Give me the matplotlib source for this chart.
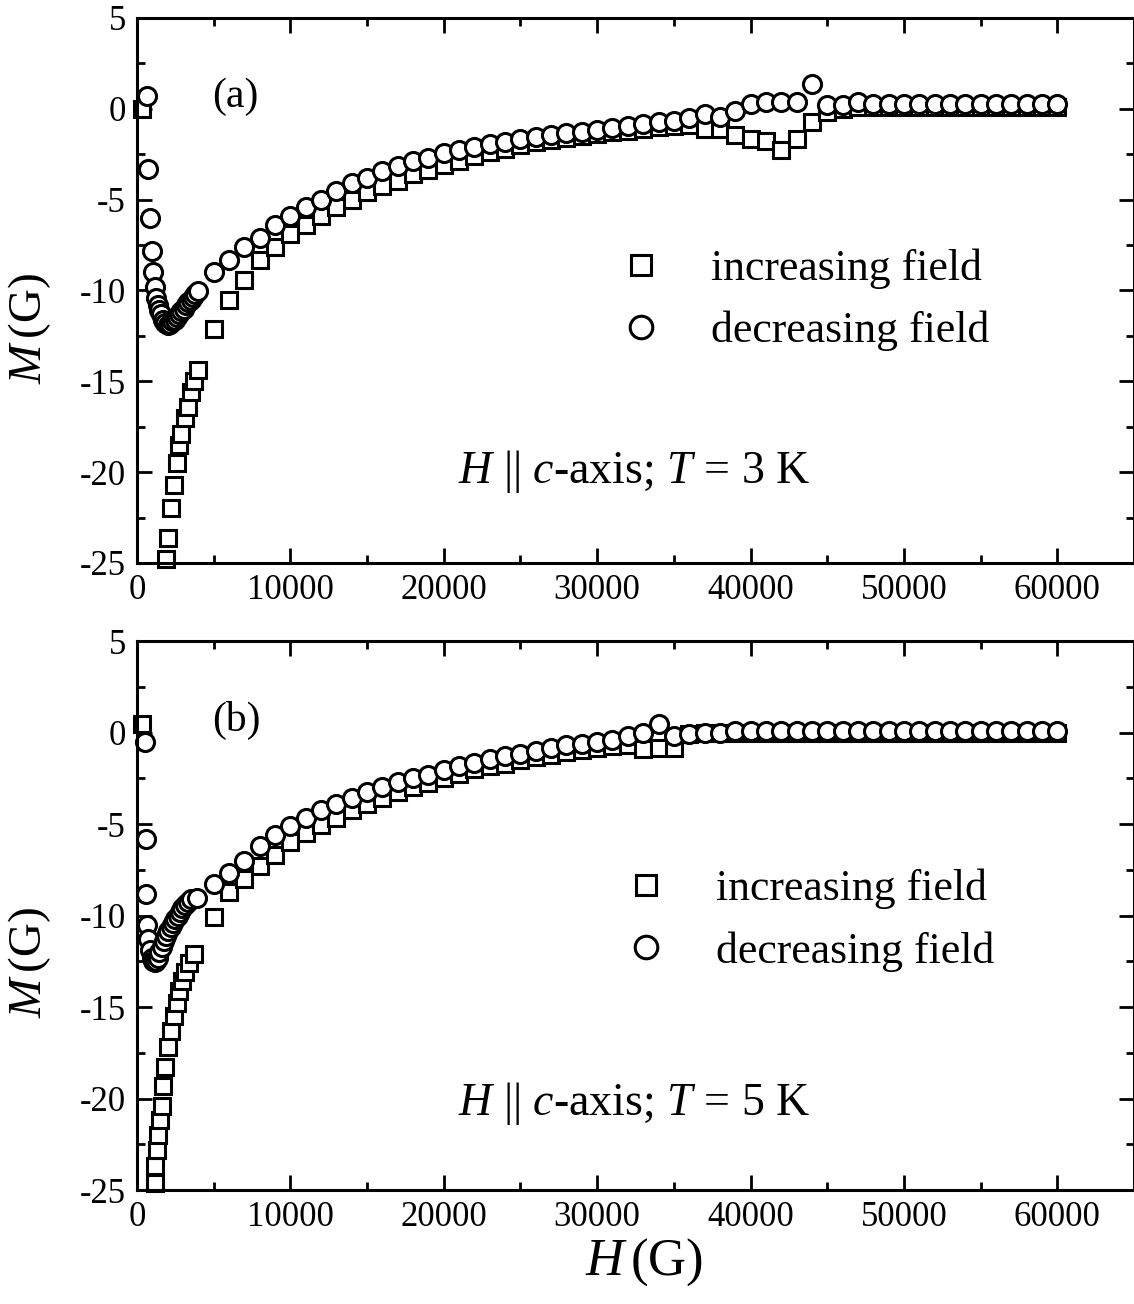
import matplotlib
matplotlib.use("Agg")
import matplotlib.pyplot as plt
from matplotlib.ticker import MultipleLocator

plt.rcParams['font.family'] = ['Liberation Serif', 'DejaVu Serif']
plt.rcParams['mathtext.fontset'] = 'custom'
plt.rcParams['mathtext.rm'] = 'Liberation Serif'
plt.rcParams['mathtext.it'] = 'Liberation Serif:italic'
plt.rcParams['axes.unicode_minus'] = False

# ---- panel (a), T = 3 K ----
h_inc_a = [300, 1900, 2000, 2200, 2400, 2600, 2750, 2900, 3100, 3300, 3500, 3700, 4000,
           5000, 6000, 7000, 8000, 9000, 10000, 11000, 12000, 13000, 14000, 15000, 16000,
           17000, 18000, 19000, 20000, 21000, 22000, 23000, 24000, 25000, 26000, 27000,
           28000, 29000, 30000, 31000, 32000, 33000, 34000, 35000, 36000, 37000, 38000,
           39000, 40000, 41000, 42000, 43000, 44000, 45000, 46000, 47000, 48000, 49000,
           50000, 51000, 52000, 53000, 54000, 55000, 56000, 57000, 58000, 59000, 60000]
m_inc_a = [0.0, -24.8, -23.6, -22.0, -20.7, -19.5, -18.5, -17.9, -17.0, -16.4, -15.6, -15.0, -14.4,
           -12.1, -10.5, -9.4, -8.3, -7.6, -6.9, -6.4, -5.9, -5.4, -5.0, -4.6, -4.25,
           -3.95, -3.6, -3.35, -3.1, -2.85, -2.6, -2.4, -2.2, -2.0, -1.85, -1.7,
           -1.6, -1.5, -1.4, -1.3, -1.2, -1.1, -1.0, -0.95, -0.9, -1.1, -1.1,
           -1.45, -1.65, -1.75, -2.25, -1.65, -0.75, -0.2, 0.0, 0.1, 0.1, 0.1,
           0.1, 0.1, 0.1, 0.1, 0.1, 0.1, 0.1, 0.1, 0.1, 0.1, 0.1]

h_dec_a = [650, 750, 850, 950, 1050, 1150, 1250, 1350, 1450, 1550, 1700, 1850, 2000, 2150,
           2300, 2450, 2600, 2750, 2900, 3050, 3200, 3350, 3500, 3650, 3800, 4000,
           5000, 6000, 7000, 8000, 9000, 10000, 11000, 12000, 13000, 14000, 15000, 16000,
           17000, 18000, 19000, 20000, 21000, 22000, 23000, 24000, 25000, 26000, 27000,
           28000, 29000, 30000, 31000, 32000, 33000, 34000, 35000, 36000, 37000, 38000,
           39000, 40000, 41000, 42000, 43000, 44000, 45000, 46000, 47000, 48000, 49000,
           50000, 51000, 52000, 53000, 54000, 55000, 56000, 57000, 58000, 59000, 60000]
m_dec_a = [0.7, -3.3, -6.0, -7.8, -9.0, -9.8, -10.4, -10.8, -11.1, -11.3, -11.6, -11.8, -11.9, -11.85,
           -11.7, -11.6, -11.45, -11.3, -11.15, -11.0, -10.8, -10.65, -10.5, -10.35, -10.2, -10.05,
           -9.0, -8.3, -7.6, -7.1, -6.4, -5.9, -5.4, -5.0, -4.5, -4.1, -3.8, -3.4,
           -3.15, -2.9, -2.7, -2.45, -2.25, -2.1, -1.95, -1.8, -1.65, -1.55, -1.45,
           -1.35, -1.25, -1.15, -1.05, -0.95, -0.85, -0.75, -0.65, -0.5, -0.3, -0.45,
           -0.1, 0.25, 0.35, 0.4, 0.4, 1.35, 0.2, 0.2, 0.35, 0.25, 0.25,
           0.25, 0.25, 0.25, 0.25, 0.25, 0.25, 0.25, 0.25, 0.25, 0.25, 0.25]

# ---- panel (b), T = 5 K ----
h_inc_b = [300, 1150, 1200, 1300, 1400, 1500, 1600, 1700, 1850, 2000, 2200, 2400, 2600, 2750,
           2950, 3150, 3400, 3700,
           5000, 6000, 7000, 8000, 9000, 10000, 11000, 12000, 13000, 14000, 15000, 16000,
           17000, 18000, 19000, 20000, 21000, 22000, 23000, 24000, 25000, 26000, 27000,
           28000, 29000, 30000, 31000, 32000, 33000, 34000, 35000, 36000, 37000, 38000,
           39000, 40000, 41000, 42000, 43000, 44000, 45000, 46000, 47000, 48000, 49000,
           50000, 51000, 52000, 53000, 54000, 55000, 56000, 57000, 58000, 59000, 60000]
m_inc_b = [0.45, -24.6, -23.7, -22.8, -22.0, -21.2, -20.4, -19.3, -18.3, -17.2, -16.3, -15.5, -14.8, -14.1,
           -13.6, -13.1, -12.6, -12.1,
           -10.1, -8.7, -8.0, -7.3, -6.7, -6.0, -5.5, -5.05, -4.65, -4.25, -3.9, -3.55,
           -3.25, -3.0, -2.75, -2.5, -2.25, -2.0, -1.85, -1.7, -1.5, -1.35, -1.2,
           -1.05, -0.95, -0.85, -0.75, -0.7, -0.9, -0.85, -0.85, -0.1, -0.05, 0.0,
           0.0, 0.0, 0.0, 0.0, 0.0, 0.0, 0.0, 0.0, 0.0, 0.0, 0.0,
           0.0, 0.0, 0.0, 0.0, 0.0, 0.0, 0.0, 0.0, 0.0, 0.0, 0.0]

h_dec_b = [520, 560, 600, 650, 750, 850, 950, 1050, 1150, 1250, 1350, 1450, 1600, 1750,
           1900, 2050, 2200, 2350, 2500, 2650, 2800, 2950, 3100, 3300, 3500, 3900,
           5000, 6000, 7000, 8000, 9000, 10000, 11000, 12000, 13000, 14000, 15000, 16000,
           17000, 18000, 19000, 20000, 21000, 22000, 23000, 24000, 25000, 26000, 27000,
           28000, 29000, 30000, 31000, 32000, 33000, 34000, 35000, 36000, 37000, 38000,
           39000, 40000, 41000, 42000, 43000, 44000, 45000, 46000, 47000, 48000, 49000,
           50000, 51000, 52000, 53000, 54000, 55000, 56000, 57000, 58000, 59000, 60000]
m_dec_b = [-0.5, -5.8, -8.8, -10.5, -11.3, -11.9, -12.3, -12.5, -12.55, -12.5, -12.3, -12.0, -11.7, -11.4,
           -11.1, -10.85, -10.6, -10.4, -10.2, -10.0, -9.8, -9.6, -9.45, -9.25, -9.1, -9.05,
           -8.25, -7.65, -7.0, -6.2, -5.6, -5.1, -4.65, -4.25, -3.9, -3.55, -3.25, -3.0,
           -2.7, -2.5, -2.3, -2.05, -1.85, -1.65, -1.45, -1.3, -1.15, -1.0, -0.85,
           -0.7, -0.6, -0.5, -0.4, -0.2, 0.0, 0.45, -0.2, -0.1, -0.05, 0.0,
           0.1, 0.1, 0.1, 0.1, 0.1, 0.1, 0.1, 0.1, 0.1, 0.1, 0.1,
           0.1, 0.1, 0.1, 0.1, 0.1, 0.1, 0.1, 0.1, 0.1, 0.1, 0.1]

labels = ['increasing field', 'decreasing field']

fig = plt.figure(figsize=(11.34, 13.04), dpi=100)
ax1 = fig.add_axes([0.1208, 0.5683, 0.8792, 0.4179])
ax2 = fig.add_axes([0.1208, 0.0874, 0.8792, 0.4210])

panels = [
    (ax1, h_inc_a, m_inc_a, h_dec_a, m_dec_a, '(a)', r'$H$ || $c$-axis; $T$ = 3 K',
     (0.4835, 0.577), 0.147, 0.431),
    (ax2, h_inc_b, m_inc_b, h_dec_b, m_dec_b, '(b)', r'$H$ || $c$-axis; $T$ = 5 K',
     (0.4885, 0.585), 0.137, 0.415),
]

for ax, hi, mi, hd, md, tag, note, legpos, notey, laby in panels:
    ax.plot(hi, mi, 's', ms=12, mfc='white', mec='black', mew=2.2, label=labels[0], clip_on=False)
    ax.plot(hd, md, 'o', ms=13, mfc='white', mec='black', mew=2.2, label=labels[1], clip_on=False)
    ax.set_xlim(0, 65000)
    ax.set_ylim(-25, 5)
    ax.xaxis.set_major_locator(MultipleLocator(10000))
    ax.xaxis.set_minor_locator(MultipleLocator(5000))
    ax.yaxis.set_major_locator(MultipleLocator(5))
    ax.yaxis.set_minor_locator(MultipleLocator(2.5))
    ax.tick_params(which='both', direction='in', top=True, right=True, width=2, labelsize=25)
    ax.tick_params(which='major', length=11, pad=8)
    ax.tick_params(which='minor', length=6)
    for s in ax.spines.values():
        s.set_linewidth(2.2)
    ax.set_ylabel(r'$M\,$(G)', fontsize=34)
    ax.yaxis.set_label_coords(-0.084, laby)
    ax.text(0.075, 0.855, tag, transform=ax.transAxes, fontsize=30, va='center', ha='left')
    ax.text(0.322, notey, note, transform=ax.transAxes, fontsize=33, va='baseline', ha='left')
    ax.legend(loc='upper left', bbox_to_anchor=legpos, frameon=False, fontsize=31.5,
              numpoints=1, markerscale=1.25, handlelength=1.0, handletextpad=1.1, borderpad=0,
              borderaxespad=0, labelspacing=0.5)

ax1.tick_params(labelbottom=True)
ax2.set_xlabel(r'$H\,$(G)', fontsize=38)
ax2.xaxis.set_label_coords(0.508, -0.085)

fig.savefig('out.png', dpi=100)
